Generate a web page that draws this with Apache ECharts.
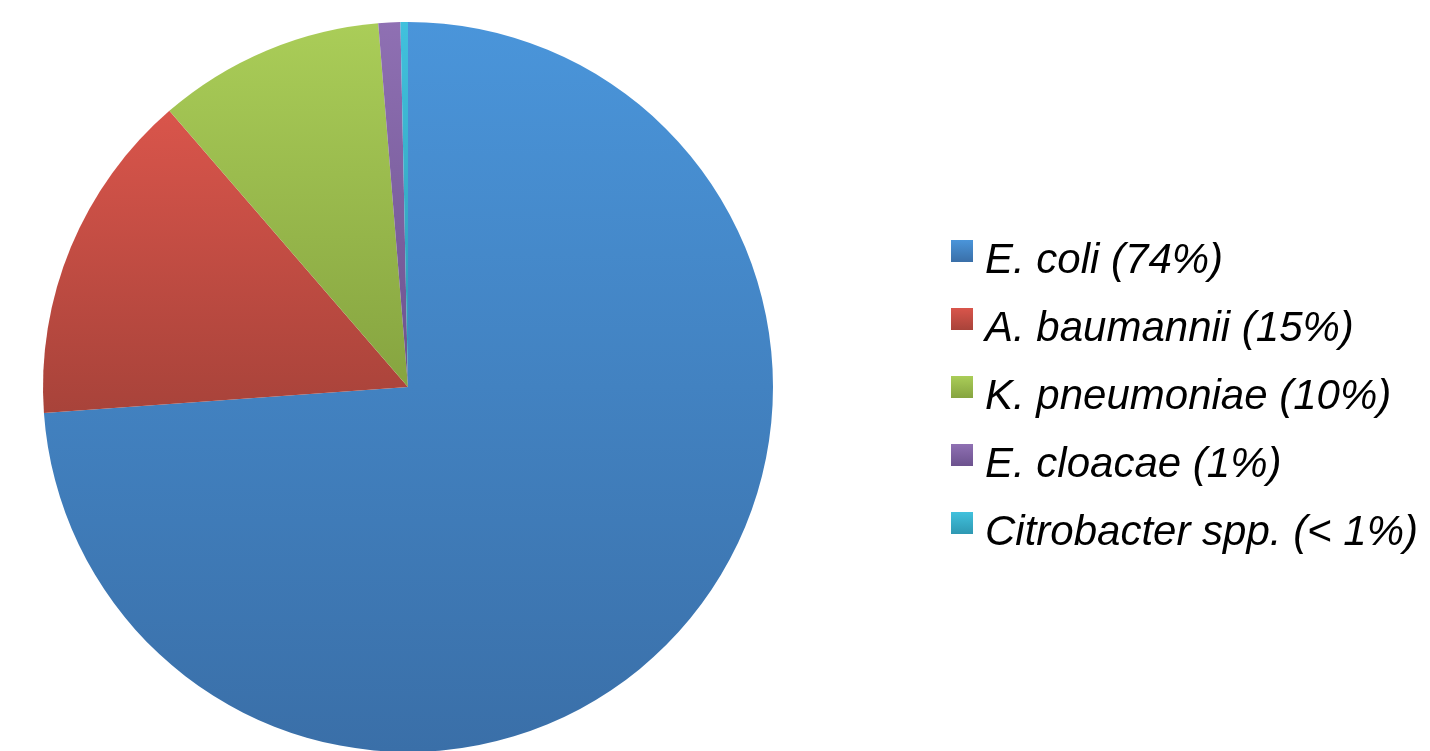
<!DOCTYPE html>
<html lang="en">

<head>
    <meta charset="UTF-8">
    <title>Isolates</title>
    <style>
        body {
            margin: 0;
            background: #fff;
        }

        #chart {
            width: 1430px;
            height: 751px;
        }
    </style>
</head>

<body>
    <div id="chart"></div>
    <script src="https://cdn.jsdelivr.net/npm/echarts@6/dist/echarts.min.js"></script>
    <script>
        const chart = echarts.init(document.getElementById('chart'));

        const names = ['E. coli (74%)', 'A. baumannii (15%)', 'K. pneumoniae (10%)', 'E. cloacae (1%)', 'Citrobacter spp. (< 1%)'];
        const values = [73.86, 14.79, 10.04, 0.97, 0.33];
        // top / bottom colour of each slice gradient
        const topColors = ['#4a95da', '#d9554b', '#aacd58', '#8f70b3', '#41c1dd'];
        const bottomColors = ['#3a6fa8', '#a8433a', '#86a440', '#6c528e', '#2e98b2'];

        function grad(i) {
            return new echarts.graphic.LinearGradient(0, 0, 0, 1, [
                { offset: 0, color: topColors[i] },
                { offset: 1, color: bottomColors[i] }
            ]);
        }

        const option = {
            animation: false,
            legend: {
                orient: 'vertical',
                left: 951,
                top: 220,
                padding: 0,
                itemWidth: 22,
                itemHeight: 22,
                itemGap: 6,
                icon: 'rect',
                data: names,
                // rich text so the label can sit a little lower than the marker
                formatter: name => `{t|${name}}`,
                textStyle: {
                    rich: {
                        t: {
                            fontFamily: 'Liberation Sans, Arial, sans-serif',
                            fontStyle: 'italic',
                            fontSize: 42,
                            lineHeight: 30,
                            color: '#000',
                            padding: [20, 0, 0, 7]
                        }
                    }
                }
            },
            series: [
                {
                    type: 'pie',
                    center: [408, 387],
                    radius: [0, 365],
                    startAngle: 90,
                    clockwise: true,
                    label: { show: false },
                    labelLine: { show: false },
                    emphasis: { disabled: true },
                    itemStyle: { borderWidth: 0 },
                    data: names.map((n, i) => ({
                        name: n,
                        value: values[i],
                        itemStyle: { color: grad(i) }
                    }))
                }
            ]
        };

        chart.setOption(option);
    </script>
</body>

</html>
